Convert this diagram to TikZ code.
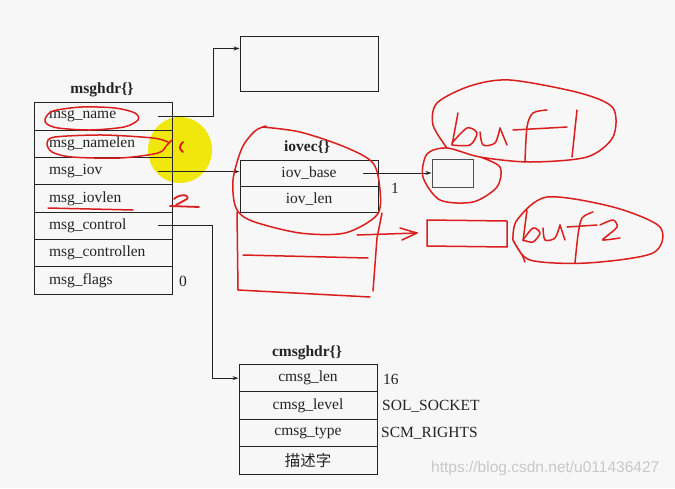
\documentclass[tikz,border=0pt]{standalone}
\usepackage{fontspec}
\setmainfont{Liberation Serif}
\newfontfamily\cjk{Noto Sans CJK SC}
\newfontfamily\wmfont{Liberation Sans}
\usetikzlibrary{arrows.meta,calc}
\definecolor{bg}{RGB}{247,247,247}
\definecolor{ink}{RGB}{35,35,35}
\definecolor{pen}{RGB}{218,30,30}
\definecolor{hl}{RGB}{240,232,12}
\definecolor{wm}{RGB}{200,200,200}
\begin{document}
\begin{tikzpicture}[x=1pt,y=-1pt,
  cell/.style={draw=ink,line width=1pt,minimum width=138pt,minimum height=27.29pt,inner sep=0pt,
    font=\fontsize{15.5}{17}\selectfont,text=ink},
  lcell/.style={cell,text width=108pt,inner xsep=15pt,align=left},
  ccell/.style={cell,minimum height=26.3pt},
  kcell/.style={cell,minimum height=27.5pt},
  ttl/.style={inner sep=0pt,font=\bfseries\fontsize{15.5}{17}\selectfont,text=ink},
  lab/.style={inner sep=0pt,anchor=west,font=\fontsize{15.5}{17}\selectfont,text=ink},
  conn/.style={draw=ink,line width=1pt,-{Stealth[length=6pt,width=4pt]}},
  redpen/.style={draw=pen,line width=1.5pt,line cap=round,line join=round},
]
\useasboundingbox (0,0) rectangle (675,488);
\fill[bg] (0,0) rectangle (675,488);

% yellow highlight
\fill[hl] (180,150) ellipse [x radius=32, y radius=33];

% msghdr
\node[ttl] (mt) at (102,90) {msghdr\{\}};
\node[lcell] (m1) at (103,116.6) {msg\_name};
\node[lcell] (m2) at (103,143.9) {msg\_namelen};
\node[lcell] (m3) at (103,171.2) {msg\_iov};
\node[lcell] (m4) at (103,198.5) {msg\_iovlen};
\node[lcell] (m5) at (103,225.8) {msg\_control};
\node[lcell] (m6) at (103,253.1) {msg\_controllen};
\node[lcell] (m7) at (103,280.4) {msg\_flags};
\node[lab] (zero) at (179,281) {0};

% top box
\node[cell,minimum width=138pt,minimum height=55pt] (tb) at (309,63.5) {};

% iovec
\node[ttl] (it) at (307,147) {iovec\{\}};
\node[ccell] (i1) at (309,173.2) {iov\_base};
\node[ccell] (i2) at (309,199.5) {iov\_len};
\node[lab] (one) at (391,188) {1};

% buf1 box
\node[draw=ink!80,line width=0.9pt,minimum width=41pt,minimum height=28pt,inner sep=0pt] (b1) at (452.5,173) {};

% cmsghdr
\node[ttl] (ct) at (307,353) {cmsghdr\{\}};
\node[kcell] (c1) at (308,378.1) {cmsg\_len};
\node[kcell] (c2) at (308,405.6) {cmsg\_level};
\node[kcell] (c3) at (308,433.1) {cmsg\_type};
\node[kcell] (c4) at (308,460.6) {\cjk 描述字};
\node[lab] (v1) at (383,379) {16};
\node[lab] (v2) at (382,406) {SOL\_SOCKET};
\node[lab] (v3) at (381,433) {SCM\_RIGHTS};

% connectors
\coordinate (s1) at (158,116.6);
\coordinate (s3) at (158,171.6);
\coordinate (s5) at (158,225.8);
\coordinate (s6) at (363,173);
\draw[conn] (s1) -- ++(55,0) |- ($(tb.north west)+(0,13)$);
\draw[conn] (s3) -- (s3 -| i1.west);
\draw[conn] (s5) -- ++(54,0) |- (c1.west);
\draw[conn] (s6) -- (s6 -| b1.west);

% red annotations
\draw[redpen] plot[smooth cycle] coordinates {(45,119) (53,111) (82,107) (115,108) (135,113) (138,120) (124,127) (90,130) (58,128) (47,124)};
\draw[redpen] plot[smooth] coordinates {(168,142) (153,138) (103,135) (55,137) (47,143) (52,152) (72,157) (120,158) (158,153) (167,145) (172,140)};
\draw[redpen,line width=2pt] (183,142) .. controls (179,146) and (179,149) .. (183,152);
\draw[redpen,line width=1.8pt] (174,199) .. controls (179,194) and (190,194) .. (187,199) -- (176,205);
\draw[redpen,line width=1.8pt] (170,206) -- (199,207);
\draw[redpen] (48,208) -- (133,210);

% loop around iovec
\draw[redpen] plot[smooth] coordinates {(262,127) (300,132) (345,147) (373,163) (380,190) (377,215) (345,233) (300,233) (252,221) (236,208) (233,180) (242,148) (255,131) (266,126)};
\draw[redpen] (237,212) -- (238,290) -- (370,297);
\draw[redpen] (243,255) -- (368,258);
\draw[redpen] (382,213) -- (377,238) -- (373,291);
\draw[redpen] (357,235) -- (417,233);
\draw[redpen] (400,228) -- (417,233) -- (402,240);

% buf1
\draw[redpen] plot[smooth] coordinates {(447,148) (433,125) (437,103) (470,86) (510,80) (580,93) (613,108) (613,137) (587,157) (530,162) (480,157) (447,148) (427,154) (423,177) (440,200) (473,202) (497,187) (500,167) (480,157)};
\draw[redpen] (458,113) -- (452,145);
\draw[redpen] plot[smooth] coordinates {(452,143) (467,128) (477,133) (470,145) (452,145)};
\draw[redpen] plot[smooth] coordinates {(480,132) (483,145) (495,143) (500,128)};
\draw[redpen] (500,128) -- (507,145);
\draw[redpen] plot[smooth] coordinates {(547,110) (533,113) (527,127) (525,162)};
\draw[redpen] (513,130) -- (567,127);
\draw[redpen] (577,110) -- (572,157);

% buf2
\draw[redpen] (427,220) -- (507,221) -- (507,247) -- (427,246) -- cycle;
\draw[redpen] plot[smooth] coordinates {(513,240) (517,220) (547,197) (613,207) (660,227) (653,253) (587,263) (530,260) (513,240) (522,255) (525,262)};
\draw[redpen] (527,210) -- (523,241);
\draw[redpen] plot[smooth] coordinates {(523,240) (533,228) (540,233) (533,242) (523,240)};
\draw[redpen] plot[smooth] coordinates {(543,228) (545,240) (555,238) (560,225)};
\draw[redpen] (560,225) -- (565,240);
\draw[redpen] plot[smooth] coordinates {(593,212) (582,218) (578,235) (575,263)};
\draw[redpen] (567,227) -- (597,225);
\draw[redpen] plot[smooth] coordinates {(600,225) (613,220) (617,227) (607,236) (603,240) (620,238)};

% watermark
\node[anchor=west,inner sep=0pt,font=\wmfont\fontsize{15.5}{17}\selectfont,text=wm] (wm) at (431,468) {https://blog.csdn.net/u011436427};
\end{tikzpicture}
\end{document}
